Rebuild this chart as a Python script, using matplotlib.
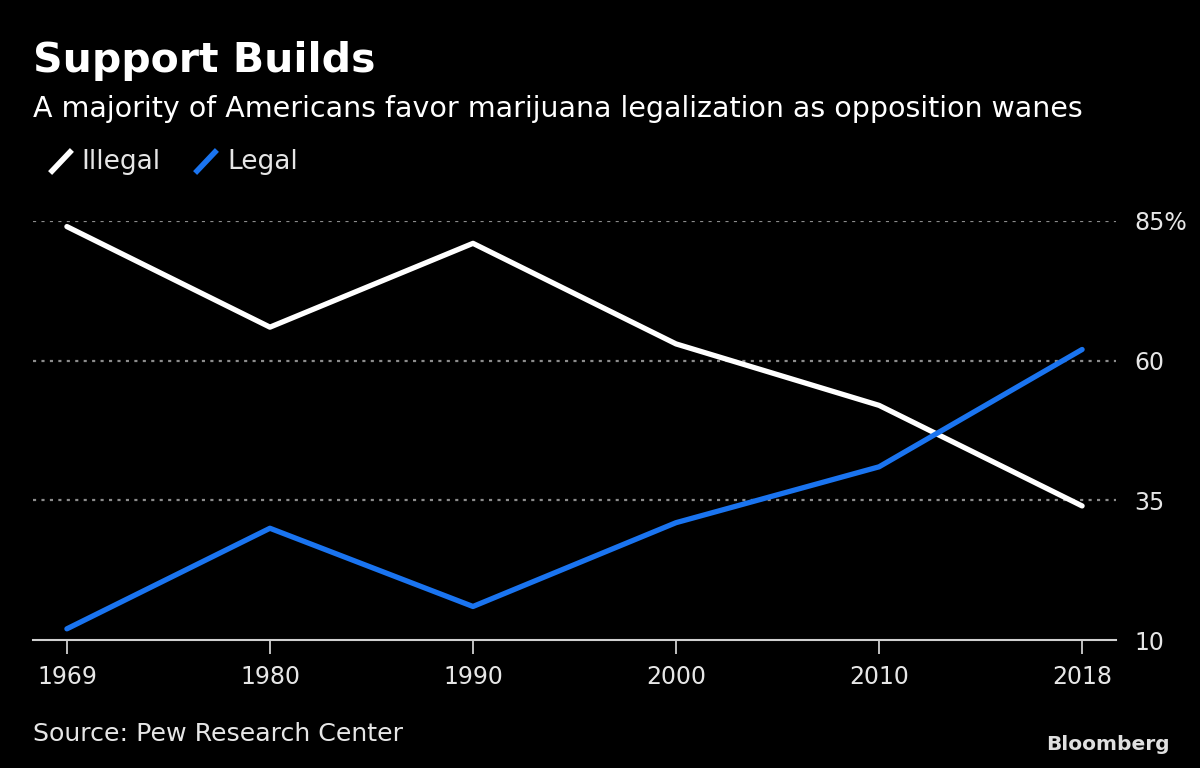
import matplotlib
matplotlib.use("Agg")
import matplotlib.pyplot as plt
from matplotlib.lines import Line2D

years = ["1969", "1980", "1990", "2000", "2010", "2018"]
illegal = [84, 66, 81, 63, 52, 34]
legal = [12, 30, 16, 31, 41, 62]
yticks = [10, 35, 60, 85]
ytick_labels = ["10", "35", "60", "85%"]

BG = "#000000"
WHITE = "#ffffff"
BLUE = "#1a74f0"
TXT = "#e6e6e6"

plt.rcParams['font.family'] = ['DejaVu Sans']

fig = plt.figure(figsize=(12, 7.68), dpi=100, facecolor=BG)
ax = fig.add_axes([33/1200, 1-640/768, (1116-33)/1200, (640-221)/768], facecolor=BG)

x = list(range(len(years)))
ax.plot(x, illegal, color=WHITE, lw=3.8, solid_capstyle='round', zorder=3)
ax.plot(x, legal, color=BLUE, lw=3.8, solid_capstyle='round', zorder=3)

ax.set_xlim(-0.167, 5.167)
ax.set_ylim(10, 85)
ax.set_xticks(x)
ax.set_xticklabels(years)
ax.yaxis.tick_right()
ax.set_yticks(yticks)
ax.set_yticklabels(ytick_labels)
for v in yticks[1:]:
    ax.axhline(v, color="#8c8c8c", lw=1.6, ls=(0, (1.4, 2.4)), zorder=1)

for s in ['top', 'left', 'right']:
    ax.spines[s].set_visible(False)
ax.spines['bottom'].set_color("#d0d0d0")
ax.spines['bottom'].set_linewidth(1.5)
ax.tick_params(axis='x', colors="#d0d0d0", length=10, width=1.3, labelcolor=TXT, labelsize=17, pad=8)
ax.tick_params(axis='y', length=0, labelcolor=TXT, labelsize=17, pad=13)

fig.text(33/1200, 1-72/768, "Support Builds", color=WHITE, fontsize=29.5, fontweight='bold', va='baseline')
fig.text(33/1200, 1-117/768, "A majority of Americans favor marijuana legalization as opposition wanes",
         color=WHITE, fontsize=20.5, va='baseline')

# legend
fig.add_artist(Line2D([52/1200, 70/1200], [1-171/768, 1-152/768], color=WHITE, lw=4, transform=fig.transFigure))
fig.text(81/1200, 1-169/768, "Illegal", color=TXT, fontsize=19, va='baseline')
fig.add_artist(Line2D([197/1200, 215/1200], [1-171/768, 1-152/768], color=BLUE, lw=4, transform=fig.transFigure))
fig.text(227/1200, 1-169/768, "Legal", color=TXT, fontsize=19, va='baseline')

fig.text(33/1200, 1-741/768, "Source: Pew Research Center", color=TXT, fontsize=18.2, va='baseline')
fig.text(1170/1200, 1-750/768, "Bloomberg", color="#e0e0e0", fontsize=14.5, fontweight='bold', ha='right', va='baseline')

fig.savefig("out.png", dpi=100, facecolor=BG)
